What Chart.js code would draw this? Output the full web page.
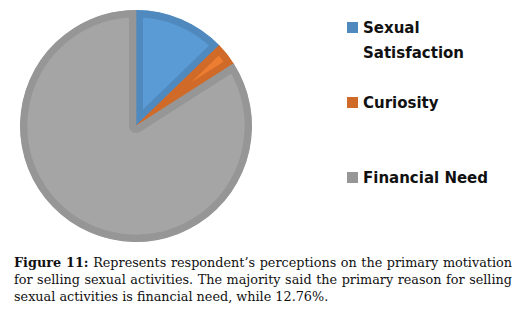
<!DOCTYPE html>
<html>
<head>
<meta charset="utf-8">
<script src="https://cdn.jsdelivr.net/npm/chart.js@4.4.0/dist/chart.umd.min.js"></script>
<style>
    body { margin: 0; background: #fff; width: 523px; height: 312px; position: relative; overflow: hidden; }
    #pieBox { position: absolute; left: 0; top: 0; width: 272px; height: 252px; }
    #legend { position: absolute; left: 347px; top: 16px; font-family: "DejaVu Sans", sans-serif; font-weight: bold; font-size: 15px; color: #111; }
    .leg-item { position: absolute; left: 0; white-space: nowrap; }
    .leg-box { position: absolute; left: 0; top: 6px; width: 11px; height: 11px; }
    .leg-text { position: absolute; left: 16px; top: 0; line-height: 25px; }
    #caption { position: absolute; left: 14px; top: 254px; width: 498px; font-family: "DejaVu Serif", serif; font-size: 12.8px; line-height: 17px; color: #111; text-align: justify; }
</style>
</head>
<body>
<div id="pieBox"><canvas id="pieChart"></canvas></div>
<div id="legend"></div>
<div id="caption"><b>Figure 11:</b> Represents respondent’s perceptions on the primary motivation for selling sexual activities. The majority said the primary reason for selling sexual activities is financial need, while 12.76%.</div>
<script>
// 데이터
const categories = ['Sexual Satisfaction', 'Curiosity', 'Financial Need'];
const legendLines = [['Sexual', 'Satisfaction'], ['Curiosity'], ['Financial Need']];
const percents = [12.76, 3.2, 84.04];

const fillColors = ['#5b9bd5', '#ed7d31', '#a5a5a5'];
const edgeColors = ['#4f89bd', '#d06a28', '#969696'];

document.addEventListener('DOMContentLoaded', function() {
    const ctx = document.getElementById('pieChart');
    new Chart(ctx, {
        type: 'pie',
        data: {
            labels: categories,
            datasets: [{
                data: percents,
                backgroundColor: fillColors,
                borderColor: edgeColors,
                borderWidth: 7,
                borderAlign: 'inner'
            }]
        },
        options: {
            responsive: true,
            maintainAspectRatio: false,
            animation: false,
            radius: 116,
            layout: { padding: 0 },
            plugins: {
                legend: { display: false },
                tooltip: { enabled: false }
            }
        }
    });

    // 범례 (오른쪽)
    const legend = document.getElementById('legend');
    const tops = [0, 75, 150];
    categories.forEach((name, i) => {
        const item = document.createElement('div');
        item.className = 'leg-item';
        item.style.top = tops[i] + 'px';
        item.innerHTML = '<div class="leg-box" style="background:' + edgeColors[i] + '"></div>' +
            '<div class="leg-text">' + legendLines[i].join('<br>') + '</div>';
        legend.appendChild(item);
    });
});
</script>
</body>
</html>
